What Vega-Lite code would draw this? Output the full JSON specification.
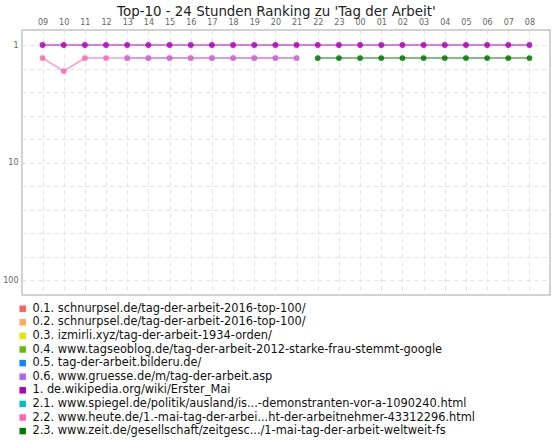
{
  "$schema": "https://vega.github.io/schema/vega-lite/v6.json",
  "width": 528,
  "height": 265,
  "autosize": {"type": "none"},
  "padding": {"left": 22, "top": 30, "right": 10, "bottom": 145},
  "background": "white",
  "title": {
    "text": "Top-10 - 24 Stunden Ranking zu 'Tag der Arbeit'",
    "anchor": "middle",
    "frame": "bounds",
    "font": "DejaVu Sans",
    "fontSize": 13.4,
    "fontWeight": "normal",
    "color": "#222222",
    "offset": 0
  },
  "config": {
    "view": {"stroke": "#c4c4c4", "strokeWidth": 1.5},
    "axis": {
      "domain": false,
      "ticks": false,
      "labelFont": "DejaVu Sans",
      "labelFontSize": 8,
      "labelColor": "#666666",
      "gridColor": "#e2e2e2",
      "gridDash": [4, 4],
      "gridWidth": 1,
      "title": null
    },
    "legend": {
      "labelFont": "DejaVu Sans",
      "labelFontSize": 11.4,
      "labelColor": "#111111",
      "labelLimit": 600,
      "symbolType": "square",
      "symbolSize": 42,
      "symbolStrokeWidth": 0,
      "symbolOpacity": 1,
      "rowPadding": 0.6
    }
  },
  "data": {
    "values": [
      {"hour": "09", "series": "1. de.wikipedia.org/wiki/Erster_Mai", "rank": 1},
      {"hour": "10", "series": "1. de.wikipedia.org/wiki/Erster_Mai", "rank": 1},
      {"hour": "11", "series": "1. de.wikipedia.org/wiki/Erster_Mai", "rank": 1},
      {"hour": "12", "series": "1. de.wikipedia.org/wiki/Erster_Mai", "rank": 1},
      {"hour": "13", "series": "1. de.wikipedia.org/wiki/Erster_Mai", "rank": 1},
      {"hour": "14", "series": "1. de.wikipedia.org/wiki/Erster_Mai", "rank": 1},
      {"hour": "15", "series": "1. de.wikipedia.org/wiki/Erster_Mai", "rank": 1},
      {"hour": "16", "series": "1. de.wikipedia.org/wiki/Erster_Mai", "rank": 1},
      {"hour": "17", "series": "1. de.wikipedia.org/wiki/Erster_Mai", "rank": 1},
      {"hour": "18", "series": "1. de.wikipedia.org/wiki/Erster_Mai", "rank": 1},
      {"hour": "19", "series": "1. de.wikipedia.org/wiki/Erster_Mai", "rank": 1},
      {"hour": "20", "series": "1. de.wikipedia.org/wiki/Erster_Mai", "rank": 1},
      {"hour": "21", "series": "1. de.wikipedia.org/wiki/Erster_Mai", "rank": 1},
      {"hour": "22", "series": "1. de.wikipedia.org/wiki/Erster_Mai", "rank": 1},
      {"hour": "23", "series": "1. de.wikipedia.org/wiki/Erster_Mai", "rank": 1},
      {"hour": "00", "series": "1. de.wikipedia.org/wiki/Erster_Mai", "rank": 1},
      {"hour": "01", "series": "1. de.wikipedia.org/wiki/Erster_Mai", "rank": 1},
      {"hour": "02", "series": "1. de.wikipedia.org/wiki/Erster_Mai", "rank": 1},
      {"hour": "03", "series": "1. de.wikipedia.org/wiki/Erster_Mai", "rank": 1},
      {"hour": "04", "series": "1. de.wikipedia.org/wiki/Erster_Mai", "rank": 1},
      {"hour": "05", "series": "1. de.wikipedia.org/wiki/Erster_Mai", "rank": 1},
      {"hour": "06", "series": "1. de.wikipedia.org/wiki/Erster_Mai", "rank": 1},
      {"hour": "07", "series": "1. de.wikipedia.org/wiki/Erster_Mai", "rank": 1},
      {"hour": "08", "series": "1. de.wikipedia.org/wiki/Erster_Mai", "rank": 1},
      {"hour": "09", "series": "2.2. www.heute.de/1.-mai-tag-der-arbei...ht-der-arbeitnehmer-43312296.html", "rank": 2},
      {"hour": "10", "series": "2.2. www.heute.de/1.-mai-tag-der-arbei...ht-der-arbeitnehmer-43312296.html", "rank": 3},
      {"hour": "11", "series": "2.2. www.heute.de/1.-mai-tag-der-arbei...ht-der-arbeitnehmer-43312296.html", "rank": 2},
      {"hour": "12", "series": "2.2. www.heute.de/1.-mai-tag-der-arbei...ht-der-arbeitnehmer-43312296.html", "rank": 2},
      {"hour": "13", "series": "2.2. www.heute.de/1.-mai-tag-der-arbei...ht-der-arbeitnehmer-43312296.html", "rank": 2},
      {"hour": "14", "series": "2.2. www.heute.de/1.-mai-tag-der-arbei...ht-der-arbeitnehmer-43312296.html", "rank": 2},
      {"hour": "15", "series": "2.2. www.heute.de/1.-mai-tag-der-arbei...ht-der-arbeitnehmer-43312296.html", "rank": 2},
      {"hour": "16", "series": "2.2. www.heute.de/1.-mai-tag-der-arbei...ht-der-arbeitnehmer-43312296.html", "rank": 2},
      {"hour": "17", "series": "2.2. www.heute.de/1.-mai-tag-der-arbei...ht-der-arbeitnehmer-43312296.html", "rank": 2},
      {"hour": "18", "series": "2.2. www.heute.de/1.-mai-tag-der-arbei...ht-der-arbeitnehmer-43312296.html", "rank": 2},
      {"hour": "19", "series": "2.2. www.heute.de/1.-mai-tag-der-arbei...ht-der-arbeitnehmer-43312296.html", "rank": 2},
      {"hour": "20", "series": "2.2. www.heute.de/1.-mai-tag-der-arbei...ht-der-arbeitnehmer-43312296.html", "rank": 2},
      {"hour": "21", "series": "2.2. www.heute.de/1.-mai-tag-der-arbei...ht-der-arbeitnehmer-43312296.html", "rank": 2},
      {"hour": "13", "series": "0.6. www.gruesse.de/m/tag-der-arbeit.asp", "rank": 2},
      {"hour": "14", "series": "0.6. www.gruesse.de/m/tag-der-arbeit.asp", "rank": 2},
      {"hour": "15", "series": "0.6. www.gruesse.de/m/tag-der-arbeit.asp", "rank": 2},
      {"hour": "16", "series": "0.6. www.gruesse.de/m/tag-der-arbeit.asp", "rank": 2},
      {"hour": "17", "series": "0.6. www.gruesse.de/m/tag-der-arbeit.asp", "rank": 2},
      {"hour": "18", "series": "0.6. www.gruesse.de/m/tag-der-arbeit.asp", "rank": 2},
      {"hour": "19", "series": "0.6. www.gruesse.de/m/tag-der-arbeit.asp", "rank": 2},
      {"hour": "20", "series": "0.6. www.gruesse.de/m/tag-der-arbeit.asp", "rank": 2},
      {"hour": "21", "series": "0.6. www.gruesse.de/m/tag-der-arbeit.asp", "rank": 2},
      {"hour": "22", "series": "2.3. www.zeit.de/gesellschaft/zeitgesc.../1-mai-tag-der-arbeit-weltweit-fs", "rank": 2},
      {"hour": "23", "series": "2.3. www.zeit.de/gesellschaft/zeitgesc.../1-mai-tag-der-arbeit-weltweit-fs", "rank": 2},
      {"hour": "00", "series": "2.3. www.zeit.de/gesellschaft/zeitgesc.../1-mai-tag-der-arbeit-weltweit-fs", "rank": 2},
      {"hour": "01", "series": "2.3. www.zeit.de/gesellschaft/zeitgesc.../1-mai-tag-der-arbeit-weltweit-fs", "rank": 2},
      {"hour": "02", "series": "2.3. www.zeit.de/gesellschaft/zeitgesc.../1-mai-tag-der-arbeit-weltweit-fs", "rank": 2},
      {"hour": "03", "series": "2.3. www.zeit.de/gesellschaft/zeitgesc.../1-mai-tag-der-arbeit-weltweit-fs", "rank": 2},
      {"hour": "04", "series": "2.3. www.zeit.de/gesellschaft/zeitgesc.../1-mai-tag-der-arbeit-weltweit-fs", "rank": 2},
      {"hour": "05", "series": "2.3. www.zeit.de/gesellschaft/zeitgesc.../1-mai-tag-der-arbeit-weltweit-fs", "rank": 2},
      {"hour": "06", "series": "2.3. www.zeit.de/gesellschaft/zeitgesc.../1-mai-tag-der-arbeit-weltweit-fs", "rank": 2},
      {"hour": "07", "series": "2.3. www.zeit.de/gesellschaft/zeitgesc.../1-mai-tag-der-arbeit-weltweit-fs", "rank": 2},
      {"hour": "08", "series": "2.3. www.zeit.de/gesellschaft/zeitgesc.../1-mai-tag-der-arbeit-weltweit-fs", "rank": 2}
    ]
  },
  "encoding": {
    "x": {
      "field": "hour",
      "type": "ordinal",
      "sort": ["09","10","11","12","13","14","15","16","17","18","19","20","21","22","23","00","01","02","03","04","05","06","07","08"],
      "scale": {"type": "point", "padding": 0.97},
      "axis": {"orient": "top", "labelAngle": 0, "labelPadding": 4, "grid": true}
    },
    "y": {
      "field": "rank",
      "type": "quantitative",
      "scale": {
        "type": "linear",
        "domain": [-0.15, 1, 10, 100, 111.5],
        "range": [0, 15, 132.5, 250, 265],
        "zero": false,
        "nice": false,
        "clamp": false
      },
      "axis": {
        "values": [1, 2.8, 4.6, 6.4, 8.2, 10, 28, 46, 64, 82, 100],
        "labelExpr": "(datum.value == 1 || datum.value == 10 || datum.value == 100) ? datum.label : ''",
        "labelPadding": 4,
        "grid": true
      }
    },
    "color": {
      "field": "series",
      "type": "nominal",
      "scale": {
        "domain": [
          "0.1. schnurpsel.de/tag-der-arbeit-2016-top-100/",
          "0.2. schnurpsel.de/tag-der-arbeit-2016-top-100/ ",
          "0.3. izmirli.xyz/tag-der-arbeit-1934-orden/",
          "0.4. www.tagseoblog.de/tag-der-arbeit-2012-starke-frau-stemmt-google",
          "0.5. tag-der-arbeit.bilderu.de/",
          "0.6. www.gruesse.de/m/tag-der-arbeit.asp",
          "1. de.wikipedia.org/wiki/Erster_Mai",
          "2.1. www.spiegel.de/politik/ausland/is...-demonstranten-vor-a-1090240.html",
          "2.2. www.heute.de/1.-mai-tag-der-arbei...ht-der-arbeitnehmer-43312296.html",
          "2.3. www.zeit.de/gesellschaft/zeitgesc.../1-mai-tag-der-arbeit-weltweit-fs"
        ],
        "range": ["#ff5f5f", "#ffaa5f", "#e6e600", "#66bb00", "#0a88ff", "#aa66ff", "#b000bb", "#00c0c0", "#ff66b0", "#007a00"]
      },
      "legend": {
        "orient": "none",
        "legendX": -5,
        "legendY": 273,
        "title": null,
        "direction": "vertical"
      }
    }
  },
  "layer": [
    {
      "mark": {"type": "line", "strokeWidth": 1.6},
      "encoding": {
        "opacity": {"condition": {"test": "datum.series == '0.6. www.gruesse.de/m/tag-der-arbeit.asp'", "value": 0.45}, "value": 0.65}
      }
    },
    {
      "mark": {"type": "point", "filled": true, "size": 34},
      "encoding": {
        "opacity": {"condition": {"test": "datum.series == '0.6. www.gruesse.de/m/tag-der-arbeit.asp'", "value": 0.5}, "value": 0.85}
      }
    }
  ]
}
